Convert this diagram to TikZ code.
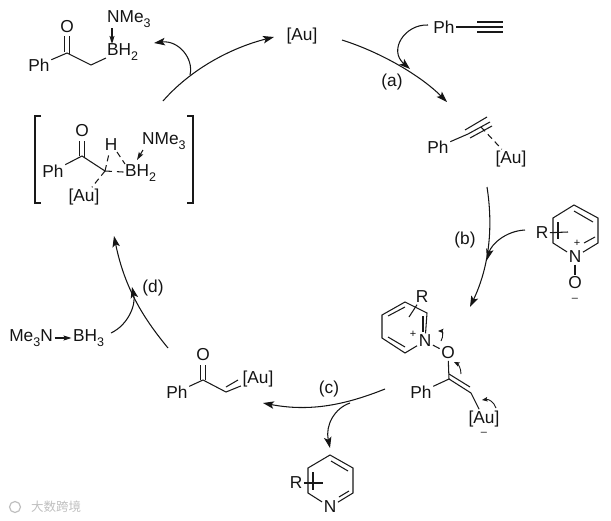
\documentclass[tikz,border=0pt]{standalone}
\usepackage{fontspec}
\setmainfont{Liberation Sans}
\newfontfamily\cjkwm{Noto Sans CJK SC}
\usetikzlibrary{arrows.meta,calc}
\newcommand{\subd}[1]{\raisebox{-0.32em}{\fontsize{12.5}{12.5}\selectfont #1}}
\tikzset{
  x=1pt,y=-1pt,
  lab/.style={inner sep=1.5pt,font=\fontsize{17.3}{18}\selectfont,text=black!92},
  chg/.style={inner sep=0.2pt,font=\fontsize{11}{11}\selectfont,text=black!92},
  bond/.style={line width=1.05pt,draw=black!90},
  dbond/.style={bond,dash pattern=on 6pt off 4pt},
  flow/.style={line width=1.05pt,draw=black!92,-{Stealth[length=11pt,width=7.5pt,inset=2.5pt]}},
  plain/.style={line width=1.05pt,draw=black!90},
  mini/.style={line width=0.9pt,draw=black!90,-{Stealth[length=5.5pt,width=4.5pt,inset=1pt]}},
  dative/.style={bond,-{Stealth[length=8pt,width=5pt,inset=1.5pt]}},
}
\begin{document}
\begin{tikzpicture}
\useasboundingbox (0,0) rectangle (611,520);

% ---- top-left product
\node[lab] (pPh) at (39,65) {Ph};
\node[lab] (pO) at (67,27) {O};
\node[lab,anchor=west] (pB) at (105.5,52) {BH\subd{2}};
\node[lab,anchor=west] (pN) at (105.5,19) {NMe\subd{3}};
\coordinate (pC) at (67,53);
\coordinate (pCH) at (91,65);
\coordinate (pBb) at (106,58);
\draw[bond] (pPh) -- (pC) -- (pCH) -- (pBb);
\draw[bond] (64.7,36) -- (64.7,52);
\draw[bond] (69.3,36) -- (69.3,54);
\coordinate (pNb) at (112,28);
\coordinate (pBt) at (112,44);
\draw[dative] (pNb) -- (pBt);

% ---- bracketed complex
\coordinate (bl1) at (41,116); \coordinate (bl2) at (35,116);
\coordinate (bl3) at (35,203); \coordinate (bl4) at (41,203);
\coordinate (br1) at (187,116); \coordinate (br2) at (193,116);
\coordinate (br3) at (193,203); \coordinate (br4) at (187,203);
\draw[plain] (bl1) -- (bl2) -- (bl3) -- (bl4);
\draw[plain] (br1) -- (br2) -- (br3) -- (br4);
\node[lab] (cPh) at (53,171) {Ph};
\node[lab] (cO) at (82,131) {O};
\node[lab] (cH) at (111,145) {H};
\node[lab,anchor=west] (cB) at (123.5,173) {BH\subd{2}};
\node[lab,anchor=west] (cN) at (140.5,141) {NMe\subd{3}};
\node[lab] (cAu) at (84,197) {[Au]};
\coordinate (cC) at (82,156);
\coordinate (cD) at (105,171);
\draw[bond] (cPh) -- (cC) -- (cD);
\draw[bond] (79.7,141) -- (79.7,156);
\draw[bond] (84.3,141) -- (84.3,157);
\draw[dative] (143,150) -- (137,160);
\draw[dbond] (cD) -- (cH);
\draw[dbond] (117,152) -- (125,164);
\draw[bond,dash pattern=on 7pt off 5pt] (cD) -- (cB);
\draw[dbond] (cD) -- (cAu);

% ---- [Au] catalyst
\node[lab] (Au) at (302,36) {[Au]};

% ---- phenylacetylene
\node[lab] (aPh) at (444,27) {Ph};
\coordinate (aC) at (477,27);
\coordinate (aE) at (503,27);
\draw[bond] (aPh) -- (aC) -- (aE);
\draw[bond] (477,22) -- (503,22);
\draw[bond] (477,32) -- (503,32);

% ---- coordinated alkyne
\node[lab] (bPh) at (438,147) {Ph};
\node[lab] (bAu) at (511,159) {[Au]};
\coordinate (bC) at (468,134);
\coordinate (bE) at (490,122);
\draw[bond] (bPh) -- (bC) -- (bE);
\draw[bond] (465,130) -- (487,117);
\draw[bond] (470,138) -- (492,126);
\draw[dbond] (481,127) -- (bAu);

% ---- pyridine N-oxide
\node[lab] (oN) at (575,257) {N};
\node[lab] (oO) at (575,283) {O};
\node[lab] (oR) at (542,233) {R};
\node[chg] at (577,243) (oP) {+};
\node[chg] at (575,299.5) (oM) {--};
\coordinate (o1) at (574,205); \coordinate (o2) at (598,218);
\coordinate (o3) at (598,243); \coordinate (o5) at (553,243);
\coordinate (o6) at (553,218); \coordinate (oRe) at (568,232);
\draw[bond] (oN) -- (o3) -- (o2) -- (o1) -- (o6) -- (o5) -- (oN);
\draw[bond] (oN) -- (oO);
\draw[bond] (574,211) -- (593,222);
\draw[bond] (584,243) -- (595,237);
\draw[bond] (558,222) -- (558,239);
\draw[bond] (oR) -- (oRe);

% ---- pyridinium intermediate
\node[lab] (iN) at (425,341) {N};
\node[lab] (iO) at (448,353) {O};
\node[lab] (iR) at (422,297) {R};
\node[chg] (iP) at (413,334) {+};
\node[lab] (iPh) at (421,392) {Ph};
\node[lab] (iAu) at (484,419) {[Au]};
\node[chg] (iM) at (484,434) {--};
\coordinate (i1) at (405,302); \coordinate (i2) at (382,315);
\coordinate (i3) at (382,338); \coordinate (i4) at (405,353);
\coordinate (i6) at (427,313);
\coordinate (iA) at (449,379); \coordinate (iB) at (471,393);
\coordinate (iRe) at (409,317);
\draw[bond] (iN) -- (i4) -- (i3) -- (i2) -- (i1) -- (i6) -- (iN);
\draw[bond] (388,316) -- (405,307);
\draw[bond] (388,337) -- (405,347);
\draw[bond] (423,316) -- (423,332);
\draw[bond] (iR) -- (iRe);
\draw[bond] (iN) -- (iO) -- (iA) -- (iB) -- (iAu);
\draw[bond] (iPh) -- (iA);
\draw[bond] (449,374) -- (470,387);
\draw[mini] (441,341) .. controls (444,336) and (442,331) .. (438,331);
\draw[mini] (461,374) .. controls (461,368) and (458,364) .. (454,362);
\draw[mini] (496,408) .. controls (494,402) and (489,399) .. (482,400);

% ---- enone
\node[lab] (ePh) at (177,392) {Ph};
\node[lab] (eO) at (203,355) {O};
\node[lab] (eAu) at (258,379) {[Au]};
\coordinate (eC) at (203,380); \coordinate (eD) at (226,392);
\draw[bond] (ePh) -- (eC) -- (eD) -- (eAu);
\draw[bond] (200.7,365) -- (200.7,380);
\draw[bond] (205.3,365) -- (205.3,380);
\draw[bond] (226,387) -- (238,380);

% ---- released pyridine
\node[lab] (yN) at (330,507) {N};
\node[lab] (yR) at (296,483) {R};
\coordinate (y1) at (330,455); \coordinate (y2) at (353,468);
\coordinate (y3) at (353,493); \coordinate (y5) at (308,493);
\coordinate (y6) at (308,468); \coordinate (yRe) at (323,483);
\draw[bond] (yN) -- (y3) -- (y2) -- (y1) -- (y6) -- (y5) -- (yN);
\draw[bond] (331,461) -- (348,471);
\draw[bond] (339,497) -- (349,491);
\draw[bond] (313,472) -- (313,490);
\draw[bond] (yR) -- (yRe);

% ---- amine-borane
\node[lab,anchor=east] (mN) at (54.5,338) {Me\subd{3}N};
\node[lab,anchor=west] (mB) at (71.5,338) {BH\subd{3}};
\draw[dative] (mN) -- (mB);

% ---- step labels
\node[lab] (la) at (392,82) {(a)};
\node[lab] (lb) at (465,240) {(b)};
\node[lab] (lc) at (329,389) {(c)};
\node[lab] (ld) at (153,288) {(d)};

% ---- cycle arrows
\coordinate (s0) at (163,101); \coordinate (j0) at (190,75); \coordinate (t0) at (274,37);
\draw[flow] (s0) .. controls (190,70) and (230,48) .. (t0);
\coordinate (t0b) at (154,43);
\draw[flow] (j0) .. controls (194,58) and (178,40) .. (t0b);

\coordinate (s1) at (342,40); \coordinate (j1) at (410,69); \coordinate (t1) at (447,102);
\draw[flow] (s1) .. controls (380,52) and (420,75) .. (t1);
\coordinate (s1b) at (428,25);
\draw[flow] (s1b) .. controls (405,24) and (388,50) .. (j1);

\coordinate (s2) at (487,187); \coordinate (j2) at (487,260); \coordinate (t2) at (470,307);
\draw[flow] (s2) .. controls (493,225) and (490,265) .. (t2);
\coordinate (s2b) at (525,230);
\draw[flow] (s2b) .. controls (505,231) and (491,245) .. (j2);

\coordinate (s3) at (385,389); \coordinate (j3) at (350,403); \coordinate (t3) at (263,403);
\draw[flow] (s3) .. controls (345,405) and (310,412) .. (t3);
\coordinate (t3b) at (330,448);
\draw[flow] (j3) .. controls (335,408) and (325,425) .. (t3b);

\coordinate (s4) at (168,348); \coordinate (j4) at (132,287); \coordinate (t4) at (114,236);
\draw[flow] (s4) .. controls (145,320) and (125,290) .. (t4);
\coordinate (s4b) at (111,333);
\draw[flow] (s4b) .. controls (128,325) and (136,305) .. (j4);

% ---- watermark
\node[inner sep=0pt,font=\fontsize{12.5}{12.5}\cjkwm,text=black!25] (wm) at (56,507) {大数跨境};
\node[draw=black!25,circle,line width=1.2pt,minimum size=11pt,inner sep=0pt] (wl) at (15,507) {};
\end{tikzpicture}
\end{document}
